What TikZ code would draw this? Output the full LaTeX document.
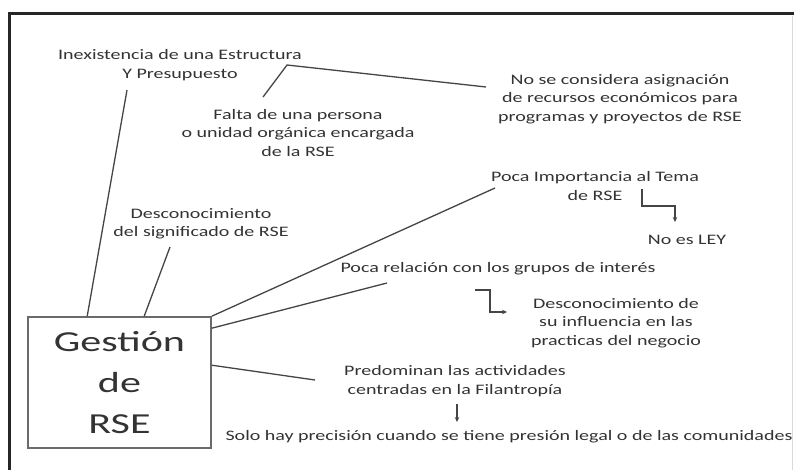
\documentclass[tikz,border=0pt]{standalone}
\usepackage{fontspec}
\setmainfont{Carlito}
\newfontfamily\smallf[FakeStretch=1.38]{Carlito}
\newfontfamily\bigf[FakeStretch=1.45]{Carlito}
\usetikzlibrary{arrows.meta,calc}
\definecolor{txt}{HTML}{333333}
\definecolor{ln}{HTML}{454545}
\definecolor{boxc}{HTML}{6A6A6A}
\begin{document}
\begin{tikzpicture}[x=1pt,y=-1pt,
  lbl/.style={inner sep=0pt, align=center, text=txt, font=\smallf\fontsize{14.5}{18.5}\selectfont},
  conn/.style={draw=ln, line width=1.3pt},
  arr/.style={conn, -{Stealth[length=5pt,width=4.5pt]}},
  gbox/.style={draw=boxc, line width=1.6pt, minimum width=183pt, minimum height=131pt, inner sep=0pt,
    align=center, text=txt, font=\bigf\fontsize{29}{41}\selectfont}]
\useasboundingbox (0,0) rectangle (794,470);
\fill[white] (0,0) rectangle (794,470);
% frame
\draw[line width=3pt, draw=black!85] (9,471) -- (9,14) -- (795,14);
\draw[line width=1pt, draw=black!15] (792,16) -- (792,471);

% central box
\node[gbox] (box) at (119.5,382.5) {Gesti\'on\\de\\RSE};

% labels
\node[lbl] (inex) at (180,65) {Inexistencia de una Estructura\\Y Presupuesto};
\node[lbl] (falta) at (298,133) {Falta de una persona\\o unidad org\'anica encargada\\de la RSE};
\node[lbl] (nose) at (620,99) {No se considera asignaci\'on\\de recursos econ\'omicos para\\programas y proyectos de RSE};
\node[lbl] (poca) at (595,186) {Poca Importancia al Tema\\de RSE};
\node[lbl] (noley) at (687,240) {No es LEY};
\node[lbl] (desc) at (201,224) {Desconocimiento\\del significado de RSE};
\node[lbl] (rel) at (498,269) {Poca relaci\'on con los grupos de inter\'es};
\node[lbl] (descinf) at (616,323) {Desconocimiento de\\su influencia en las\\practicas del negocio};
\node[lbl] (pred) at (455,381) {Predominan las actividades\\centradas en la Filantrop\'ia};
\node[lbl] (solo) at (509,437) {Solo hay precisi\'on cuando se tiene presi\'on legal o de las comunidades};

% free ends
\coordinate (c1) at (127,90);
\coordinate (c2) at (170,247);
\coordinate (c3) at (495,188);
\coordinate (c4) at (387,283);
\coordinate (c5) at (315,380);
\coordinate (b1) at (263,97);
\coordinate (b2) at (287,65);
\coordinate (b3) at (486,87);
\coordinate (e1) at (642,189);
\coordinate (a1) at (675,222);
\coordinate (e2) at (475,290);
\coordinate (a2) at (507,312);
\coordinate (d1) at (457,404);
\coordinate (d2) at (457,422);

% connectors from the box
\draw[conn] ([xshift=60pt]box.north west) -- (c1);
\draw[conn] ([xshift=117pt]box.north west) -- (c2);
\draw[conn] (box.north east) -- (c3);
\draw[conn] ([yshift=-12pt]box.north east) -- (c4);
\draw[conn] ([yshift=-49pt]box.north east) -- (c5);

% bracket between Falta and No se considera
\draw[conn] (b1) -- (b2) -- (b3);

% elbow arrows
\draw[arr] (e1) -- (e1 |- 0,206) -| (a1);
\draw[arr] (e2) -- (490,290) |- (a2);
\draw[arr] (d1) -- (d2);
\end{tikzpicture}
\end{document}
